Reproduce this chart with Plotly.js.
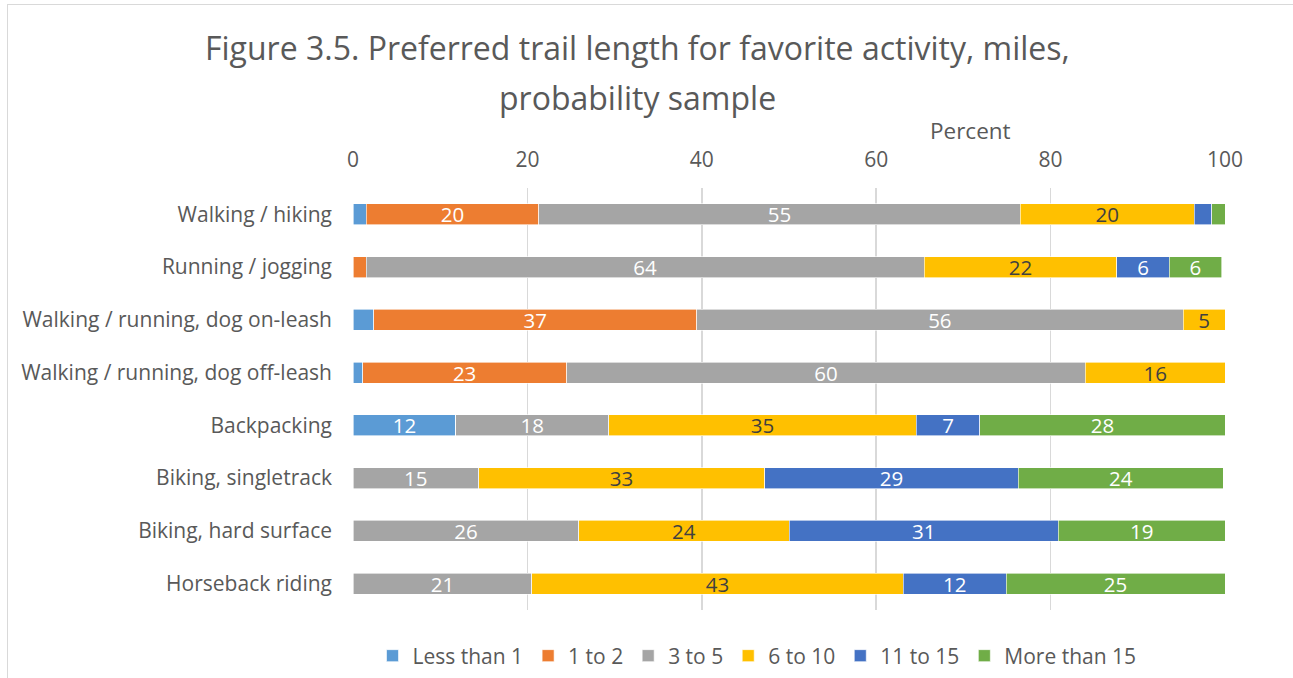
<!DOCTYPE html>
<html>
<head>
<meta charset="utf-8">
<script src="https://cdn.plot.ly/plotly-3.0.1.min.js"></script>
<style>
html,body{margin:0;padding:0;background:#fff;}
#wrap{position:relative;width:1293px;height:678px;}
#frame{position:absolute;left:7px;top:4px;width:1300px;height:700px;border:1px solid #d9d9d9;pointer-events:none;}
#chart{position:absolute;left:0;top:0;width:1293px;height:678px;}
</style>
</head>
<body>
<div id="wrap"><div id="frame"></div><div id="chart"></div></div>
<script>
const categories = ["Walking / hiking","Running / jogging","Walking / running, dog on-leash","Walking / running, dog off-leash","Backpacking","Biking, singletrack","Biking, hard surface","Horseback riding"];
const seriesNames = ["Less than 1","1 to 2","3 to 5","6 to 10","11 to 15","More than 15"];
const lessThan1  = [1.5, 0,   2.4, 1.1, 11.8, 0,    0,  0];
const oneToTwo   = [19.8,1.5, 37.0,23.4,0,    0,    0,  0];
const threeToFive= [55.2,64.0,55.8,59.5,17.5, 14.4, 25.9,20.5];
const sixToTen   = [20.0,22.1,4.8, 16.0,35.3, 32.8, 24.1,42.6];
const elevenTo15 = [2.0, 6.0, 0,   0,   7.3,  29.1, 30.9,11.8];
const moreThan15 = [1.5, 6.0, 0,   0,   28.1, 23.5, 19.1,25.1];
const labels1 = ["","","","","12","","",""];
const labels2 = ["20","","37","23","","","",""];
const labels3 = ["55","64","56","60","18","15","26","21"];
const labels4 = ["20","22","5","16","35","33","24","43"];
const labels5 = ["","6","","","7","29","31","12"];
const labels6 = ["","6","","","28","24","19","25"];
const titleLines = ["Figure 3.5. Preferred trail length for favorite activity, miles,","probability sample"];
const colors = ["#5b9bd5","#ed7d31","#a5a5a5","#ffc000","#4472c4","#70ad47"];
const textColors = ["#ffffff","#ffffff","#ffffff","#404040","#ffffff","#ffffff"];
const values = [lessThan1,oneToTwo,threeToFive,sixToTen,elevenTo15,moreThan15];
const texts = [labels1,labels2,labels3,labels4,labels5,labels6];

const FONT = "Open Sans, Noto Sans, sans-serif";
const traces = seriesNames.map((n,i)=>({
  type:"bar", orientation:"h", name:n,
  y:categories, x:values[i], text:texts[i],
  textposition:"inside", insidetextanchor:"middle", textangle:0,
  constraintext:"none",
  insidetextfont:{family:FONT,size:20.5,color:textColors[i]},
  marker:{color:colors[i], line:{color:"#ffffff",width:0.6}},
  hoverinfo:"x+y+name"
}));

const H = 678, W = 1293;
const layout = {
  width:W, height:H,
  margin:{l:353,r:68,t:188,b:68},
  paper_bgcolor:"rgba(0,0,0,0)", plot_bgcolor:"rgba(0,0,0,0)",
  barmode:"stack", bargap:0.6,
  font:{family:FONT,color:"#595959",size:21},
  xaxis:{side:"top", range:[0,100], dtick:20, tick0:0, showgrid:true, gridcolor:"#d9d9d9", gridwidth:1.5,
    zeroline:false, showline:false, ticks:"", ticklabelstandoff:16,
    tickfont:{family:FONT,size:21,color:"#595959"}},
  yaxis:{autorange:"reversed", showgrid:false, zeroline:false, showline:false, ticks:"",
    ticklabelstandoff:20, tickfont:{family:FONT,size:21,color:"#595959"}},
  legend:{orientation:"h", xref:"container", yref:"container", x:757/W, xanchor:"center", y:1-656/H, yanchor:"middle",
    traceorder:"normal", font:{family:FONT,size:21,color:"#595959"}, itemwidth:30},
  annotations:[
    {text:titleLines[0], xref:"paper", yref:"paper", x:(637-353)/872, y:1+(188-48)/422,
     xanchor:"center", yanchor:"middle", showarrow:false, font:{family:FONT,size:32,color:"#595959"}},
    {text:titleLines[1], xref:"paper", yref:"paper", x:(637-353)/872, y:1+(188-97)/422,
     xanchor:"center", yanchor:"middle", showarrow:false, font:{family:FONT,size:32,color:"#595959"}},
    {text:"Percent", xref:"paper", yref:"paper", x:(970-353)/872, y:1+(188-130)/422,
    xanchor:"center", yanchor:"middle", showarrow:false, font:{family:FONT,size:22.5,color:"#595959"}}]
};
Plotly.newPlot("chart", traces, layout, {displayModeBar:false, staticPlot:true});
</script>
</body>
</html>
